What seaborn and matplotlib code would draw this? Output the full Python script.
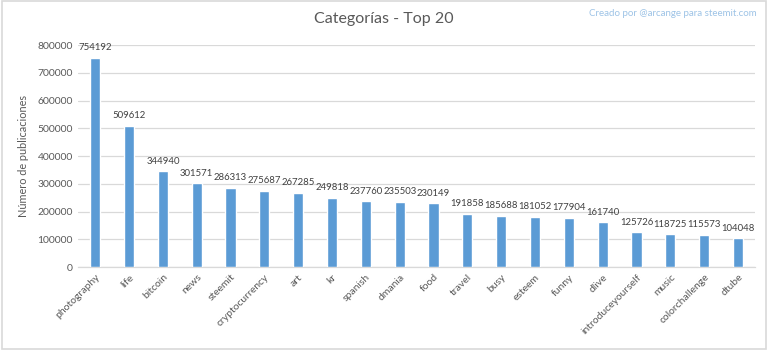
import matplotlib
matplotlib.use("Agg")
import matplotlib.pyplot as plt
import seaborn as sns
import pandas as pd

categories = ["photography", "life", "bitcoin", "news", "steemit", "cryptocurrency",
              "art", "kr", "spanish", "dmania", "food", "travel", "busy", "esteem",
              "funny", "dlive", "introduceyourself", "music", "colorchallenge", "dtube"]
posts = [754192, 509612, 344940, 301571, 286313, 275687, 267285, 249818, 237760,
         235503, 230149, 191858, 185688, 181052, 177904, 161740, 125726, 118725,
         115573, 104048]
y_ticks = [0, 100000, 200000, 300000, 400000, 500000, 600000, 700000, 800000]

sns.set_theme(style="white")
plt.rcParams["font.family"] = ["Lato", "DejaVu Sans"]

df = pd.DataFrame({"categoria": categories, "publicaciones": posts})

fig = plt.figure(figsize=(7.68, 3.5), dpi=100)
ax = fig.add_axes([0.102, 0.237, 0.881, 0.634])

sns.barplot(data=df, x="categoria", y="publicaciones", color="#5B9BD5",
            width=0.3, saturation=1, ax=ax, zorder=3)

ax.set_ylim(0, 800000)
ax.set_yticks(y_ticks)
ax.set_yticklabels([str(t) for t in y_ticks], fontsize=7.5, color="#595959")
ax.set_xlim(-0.5, len(categories) - 0.5)
ax.set_xticks(range(len(categories)))
ax.set_xticklabels(categories, rotation=45, ha="right", rotation_mode="anchor",
                   fontsize=7.5, color="#595959")
ax.tick_params(axis="both", length=0, pad=4)
ax.grid(axis="y", color="#D9D9D9", linewidth=0.9, zorder=0)
for side in ["left", "right", "top"]:
    ax.spines[side].set_visible(False)
ax.spines["bottom"].set_color("#D9D9D9")
ax.spines["bottom"].set_linewidth(0.9)

ax.set_xlabel("")
ax.set_ylabel("Número de publicaciones", fontsize=7.8, color="#595959", labelpad=6)

for i, v in enumerate(posts):
    ax.text(i, v + 20000, str(v), ha="center", va="bottom", fontsize=6.9, color="#404040")

fig.text(0.5, 0.945, "Categorías - Top 20", ha="center", va="center",
         fontsize=11.5, color="#595959")
fig.text(0.985, 0.96, "Creado por @arcange para steemit.com", ha="right", va="center",
         fontsize=7, color="#9DC3E6")

fig.patches.append(plt.Rectangle((0.002, 0.004), 0.996, 0.992, transform=fig.transFigure,
                                 fill=False, edgecolor="#D9D9D9", linewidth=1.2))

fig.savefig("out.png", dpi=100, facecolor="white")
